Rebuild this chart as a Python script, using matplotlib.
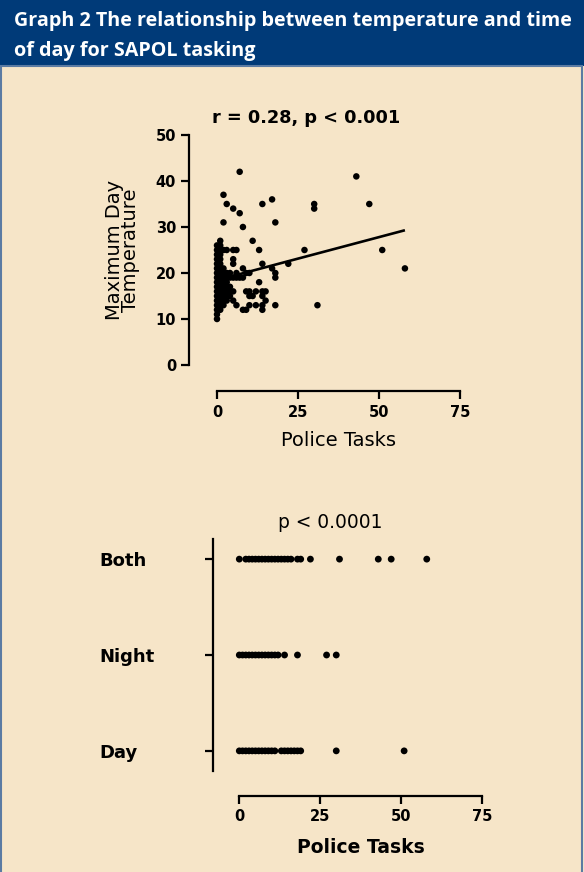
import numpy as np
import matplotlib
matplotlib.use("Agg")
import matplotlib.pyplot as plt
from matplotlib.patches import Rectangle

# colours
BG = '#f6e5c8'
HEAD = '#003a78'
EDGE = '#5b7ba3'

# top panel: police tasks vs max day temperature
tasks = [0]*17 + [1]*16 + [2]*12 + [3]*9 + [4]*5 + [5]*7 + [6]*4 + [7]*3 + [8]*4 \
    + [9]*3 + [10]*4 + [11]*2 + [12]*2 + [13]*2 + [14]*6 + [15]*2 + [17]*2 + [18]*4 \
    + [22, 27, 30, 30, 31, 43, 47, 51, 58]
temps = [10, 11, 12, 13, 14, 15, 16, 17, 18, 19, 20, 21, 22, 23, 24, 25, 26] \
    + [12, 13, 14, 15, 16, 17, 18, 19, 20, 21, 22, 23, 24, 25, 26, 27] \
    + [13, 14, 15, 16, 17, 18, 19, 20, 21, 25, 31, 37] \
    + [14, 15, 16, 17, 18, 19, 20, 25, 35] \
    + [15, 16, 17, 19, 20] \
    + [14, 16, 19, 22, 23, 25, 34] \
    + [13, 19, 20, 25] \
    + [19, 33, 42] \
    + [12, 19, 21, 30] \
    + [12, 16, 20] \
    + [13, 15, 16, 20] \
    + [15, 27] \
    + [13, 16] \
    + [18, 25] \
    + [12, 13, 15, 16, 22, 35] \
    + [14, 16] \
    + [21, 36] \
    + [13, 19, 20, 31] \
    + [22, 25, 34, 35, 13, 41, 35, 25, 21]
fit_slope = 0.187
fit_icpt = 18.45
fit_range = [0, 58]

# bottom panel: tasks by time of day
groups = ['Day', 'Night', 'Both']
day = [0, 1, 2, 3, 4, 5, 6, 7, 8, 9, 10, 11, 13, 14, 15, 16, 17, 18, 19, 30, 51]
night = [0, 1, 2, 3, 4, 5, 6, 7, 8, 9, 10, 11, 12, 14, 18, 27, 30]
both = [0, 2, 3, 4, 5, 6, 7, 8, 9, 10, 11, 12, 13, 14, 15, 16, 18, 19, 22, 31, 43, 47, 58]

fig = plt.figure(figsize=(5.84, 8.72), dpi=100)
fig.patch.set_facecolor(BG)

# header bar and frame
fig.patches.append(Rectangle((0, 1 - 66/872), 1, 66/872, transform=fig.transFigure,
                             facecolor=HEAD, edgecolor='none', zorder=0))
fig.patches.append(Rectangle((0.002, -0.01), 0.994, 1 - 66/872 + 0.01, transform=fig.transFigure,
                             facecolor='none', edgecolor=EDGE, lw=1.5, zorder=1))
fig.text(14/584, 1 - 11/872, 'Graph 2 The relationship between temperature and time\nof day for SAPOL tasking',
         color='white', fontsize=14.2, fontweight='bold', family='Open Sans',
         ha='left', va='top', linespacing=1.68)


def style_axes(ax, left_out, bottom_out):
    for s in ['top', 'right']:
        ax.spines[s].set_visible(False)
    ax.spines['left'].set_position(('outward', left_out))
    ax.spines['bottom'].set_position(('outward', bottom_out))
    for s in ['left', 'bottom']:
        ax.spines[s].set_linewidth(1.6)
    ax.set_facecolor('none')
    ax.tick_params(width=1.6, length=6, labelsize=10.5)
    for lbl in ax.get_xticklabels() + ax.get_yticklabels():
        lbl.set_fontweight('bold')


# ---- scatter
ax1 = fig.add_axes([217/584, 1 - 365/872, 243/584, 230/872])
ax1.scatter(tasks, temps, s=22, color='black', edgecolors='none', clip_on=False, zorder=3)
fx = np.array(fit_range)
ax1.plot(fx, fit_slope*fx + fit_icpt, color='black', lw=1.9, solid_capstyle='butt')
ax1.set_xlim(0, 75)
ax1.set_ylim(0, 50)
ax1.set_xticks([0, 25, 50, 75])
ax1.set_yticks([0, 10, 20, 30, 40, 50])
style_axes(ax1, 20, 19)
ax1.spines['left'].set_bounds(0, 50)
ax1.spines['bottom'].set_bounds(0, 75)
ax1.set_title('r = 0.28, p < 0.001', fontsize=12.8, fontweight='bold', x=0.366, pad=9)
ax1.set_xlabel('Police Tasks', fontsize=14, labelpad=8)
ax1.set_ylabel('Maximum Day\nTemperature', fontsize=14, linespacing=0.85)
ax1.yaxis.set_label_coords(-0.315, 0.5)

# ---- strip plot
ax2 = fig.add_axes([239.3/584, 1 - 771/872, 242.4/584, 232/872])
for i, vals in enumerate([day, night, both]):
    ax2.scatter(vals, [i]*len(vals), s=24, color='black', edgecolors='none', clip_on=False, zorder=3)
ax2.set_xlim(0, 75)
ax2.set_ylim(-0.21, 2.21)
ax2.set_xticks([0, 25, 50, 75])
ax2.set_yticks(range(len(groups)))
ax2.set_yticklabels(groups)
style_axes(ax2, 19, 18)
ax2.spines['bottom'].set_bounds(0, 75)
for lbl in ax2.get_yticklabels():
    lbl.set_fontsize(13)
    lbl.set_horizontalalignment('left')
ax2.tick_params(axis='y', pad=76)
ax2.set_title('p < 0.0001', fontsize=13.4, x=0.374, pad=8)
ax2.set_xlabel('Police Tasks', fontsize=13.5, fontweight='bold', labelpad=10)

fig.savefig('out.png', dpi=100, facecolor=fig.get_facecolor())
